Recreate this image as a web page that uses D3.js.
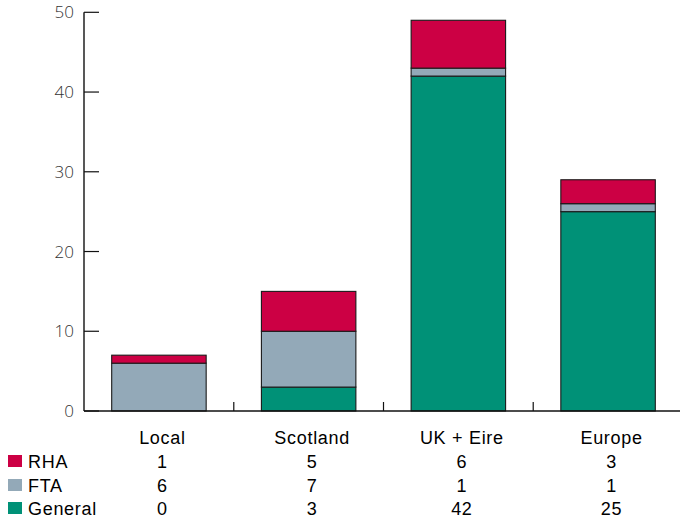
<!DOCTYPE html>
<html>
<head>
<meta charset="utf-8">
<script src="https://cdn.jsdelivr.net/npm/d3@7"></script>
<style>
  html, body { margin: 0; padding: 0; background: #fff; }
  svg { display: block; }
</style>
</head>
<body>
<svg id="chart" width="680" height="521"></svg>
<script>
// Destinations and counts per category
const categories = ["Local", "Scotland", "UK + Eire", "Europe"];
const seriesNames = ["General", "FTA", "RHA"]; // stacking order, bottom to top
const general = [0, 3, 42, 25];
const fta = [6, 7, 1, 1];
const rha = [1, 5, 6, 3];
const yTicks = [0, 10, 20, 30, 40, 50];
const tableRows = ["RHA", "FTA", "General"];

const colors = { RHA: "#cc0044", FTA: "#93a9b8", General: "#009177" };
const valuesBySeries = { General: general, FTA: fta, RHA: rha };

const svg = d3.select("#chart");
const axisLeftX = 84, baseY = 411, topY = 12.3;

const x = d3.scaleBand()
  .domain(categories)
  .range([axisLeftX, 683])
  .paddingInner(0.369)
  .paddingOuter(0.185);

const y = d3.scaleLinear().domain([0, 50]).range([baseY, topY]);

// Stacked data
const rows = categories.map((c, i) => {
  const r = { category: c };
  seriesNames.forEach(s => r[s] = valuesBySeries[s][i]);
  return r;
});
const stacked = d3.stack().keys(seriesNames)(rows);

svg.append("g")
  .selectAll("g")
  .data(stacked)
  .join("g")
  .attr("fill", d => colors[d.key])
  .selectAll("rect")
  .data(d => d)
  .join("rect")
  .attr("x", d => x(d.data.category))
  .attr("width", x.bandwidth())
  .attr("y", d => y(d[1]))
  .attr("height", d => y(d[0]) - y(d[1]))
  .attr("stroke", "#1a1a1a")
  .attr("stroke-width", 1.1);

// Y axis: line with inward ticks
const yAxis = svg.append("g").attr("transform", `translate(${axisLeftX},0)`);
yAxis.append("line")
  .attr("x1", 0).attr("x2", 0)
  .attr("y1", y(50)).attr("y2", y(0))
  .attr("stroke", "#111").attr("stroke-width", 1.4);
yAxis.selectAll("line.tick")
  .data(yTicks)
  .join("line")
  .attr("class", "tick")
  .attr("x1", 0).attr("x2", 15)
  .attr("y1", d => y(d)).attr("y2", d => y(d))
  .attr("stroke", "#111").attr("stroke-width", 1.2);
yAxis.selectAll("text")
  .data(yTicks)
  .join("text")
  .attr("x", -10)
  .attr("y", d => y(d))
  .attr("dy", "0.36em")
  .attr("text-anchor", "end")
  .attr("font-family", "'Open Sans', sans-serif")
  .attr("font-weight", 300)
  .attr("font-size", 17)
  .attr("fill", "#333")
  .text(d => d);

// Baseline and category dividers
svg.append("line")
  .attr("x1", axisLeftX).attr("x2", 683)
  .attr("y1", baseY).attr("y2", baseY)
  .attr("stroke", "#111").attr("stroke-width", 1.4);
const step = x.step();
svg.selectAll("line.divider")
  .data(categories.slice(0, -1))
  .join("line")
  .attr("class", "divider")
  .attr("x1", d => x(d) + x.bandwidth() / 2 + step / 2)
  .attr("x2", d => x(d) + x.bandwidth() / 2 + step / 2)
  .attr("y1", baseY - 9).attr("y2", baseY)
  .attr("stroke", "#111").attr("stroke-width", 1.2);

// Data table below the chart
const colX = c => x(c) + x.bandwidth() / 2 + 3.5;
const table = svg.append("g")
  .attr("font-family", "'Liberation Sans', Arial, sans-serif")
  .attr("font-size", 18)
  .attr("letter-spacing", 0.7)
  .attr("fill", "#000");

table.selectAll("text.head")
  .data(categories)
  .join("text")
  .attr("class", "head")
  .attr("x", colX)
  .attr("y", 444)
  .attr("text-anchor", "middle")
  .text(d => d);

const rowY = { RHA: 468, FTA: 492, General: 515 };
tableRows.forEach(s => {
  table.append("rect")
    .attr("x", 8).attr("y", rowY[s] - 13)
    .attr("width", 14).attr("height", 12)
    .attr("fill", colors[s]);
  table.append("text")
    .attr("x", 28).attr("y", rowY[s])
    .text(s);
  table.selectAll(null)
    .data(categories)
    .join("text")
    .attr("x", colX)
    .attr("y", rowY[s])
    .attr("text-anchor", "middle")
    .text((c, i) => valuesBySeries[s][i]);
});
</script>
</body>
</html>
